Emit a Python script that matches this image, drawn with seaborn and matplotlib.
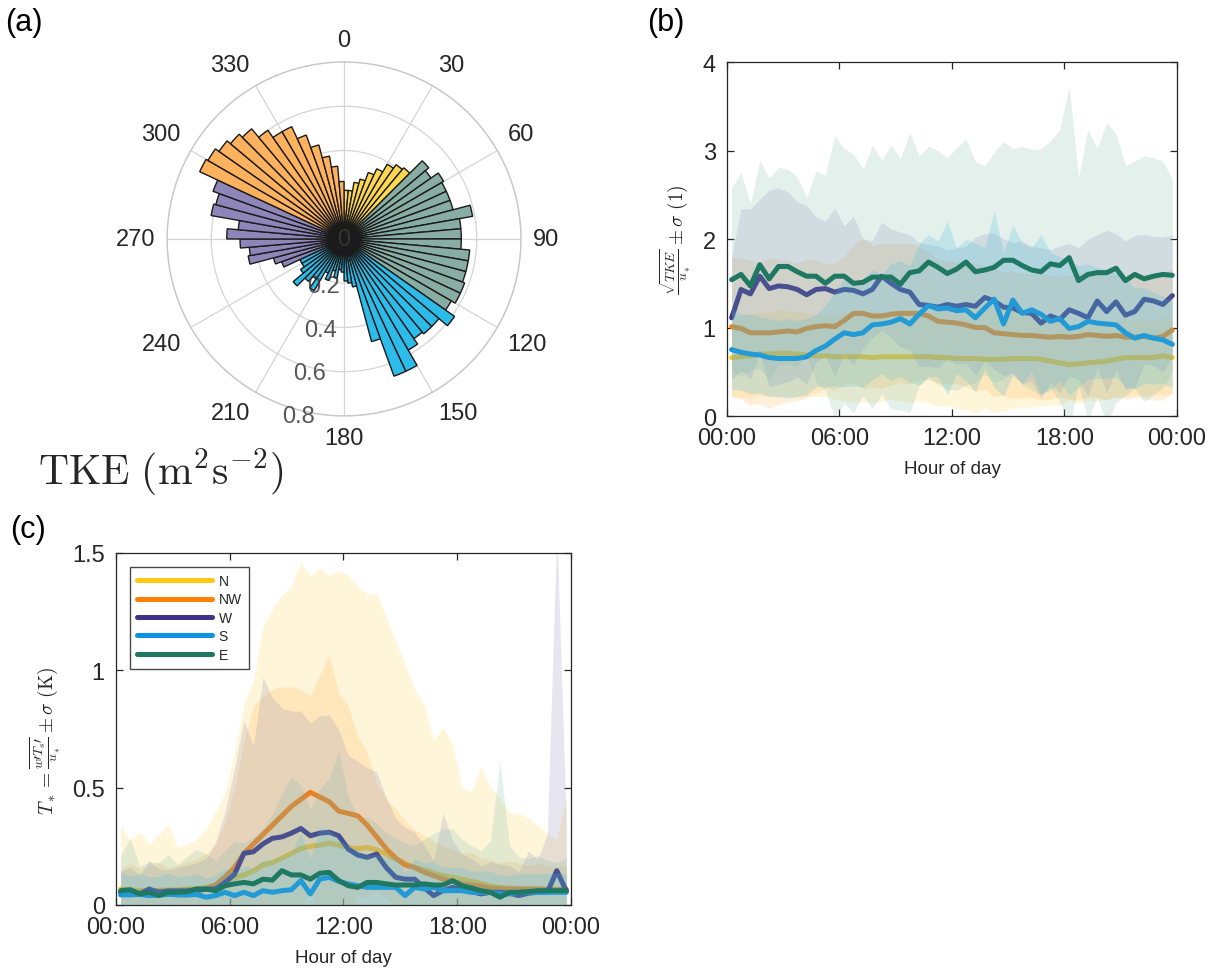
import numpy as np
import pandas as pd
import matplotlib
matplotlib.use("Agg")
import matplotlib.pyplot as plt
from matplotlib.lines import Line2D
import seaborn as sns

sns.set_theme(style="ticks")
plt.rcParams["font.family"] = ["Liberation Sans", "DejaVu Sans"]
plt.rcParams["mathtext.fontset"] = "cm"

# ---------------- data ----------------
hours = [0.25, 0.75, 1.25, 1.75, 2.25, 2.75, 3.25, 3.75, 4.25, 4.75, 5.25, 5.75,
         6.25, 6.75, 7.25, 7.75, 8.25, 8.75, 9.25, 9.75, 10.25, 10.75, 11.25, 11.75,
         12.25, 12.75, 13.25, 13.75, 14.25, 14.75, 15.25, 15.75, 16.25, 16.75, 17.25, 17.75,
         18.25, 18.75, 19.25, 19.75, 20.25, 20.75, 21.25, 21.75, 22.25, 22.75, 23.25, 23.75]
hour_ticks = [0, 6, 12, 18, 24]
hour_labels = ["00:00", "06:00", "12:00", "18:00", "00:00"]
sectors = ["N", "NW", "W", "S", "E"]

# (a) polar histogram of TKE, 5-degree bins (clockwise from north)
bin_deg = [2.5, 7.5, 12.5, 17.5, 22.5, 27.5, 32.5, 37.5, 42.5, 47.5, 52.5, 57.5,
           62.5, 67.5, 72.5, 77.5, 82.5, 87.5, 92.5, 97.5, 102.5, 107.5, 112.5, 117.5,
           122.5, 127.5, 132.5, 137.5, 142.5, 147.5, 152.5, 157.5, 162.5, 167.5, 172.5, 177.5,
           182.5, 187.5, 192.5, 197.5, 202.5, 207.5, 212.5, 217.5, 222.5, 227.5, 232.5, 237.5,
           242.5, 247.5, 252.5, 257.5, 262.5, 267.5, 272.5, 277.5, 282.5, 287.5, 292.5, 297.5,
           302.5, 307.5, 312.5, 317.5, 322.5, 327.5, 332.5, 337.5, 342.5, 347.5, 352.5, 357.5]
tke = [0.22, 0.22, 0.26, 0.28, 0.32, 0.35, 0.39, 0.41, 0.42,
       0.50, 0.48, 0.52, 0.51, 0.51, 0.51, 0.59, 0.53, 0.53, 0.53, 0.57, 0.57, 0.57, 0.58, 0.58, 0.56,
       0.61, 0.56, 0.56, 0.55, 0.58, 0.66, 0.66, 0.48, 0.22, 0.20, 0.19, 0.15, 0.14, 0.18, 0.15, 0.20,
       0.17, 0.27, 0.22, 0.25, 0.30, 0.24, 0.22, 0.22,
       0.30, 0.33, 0.44, 0.43, 0.47, 0.53, 0.48, 0.61, 0.60, 0.63,
       0.72, 0.71, 0.69, 0.67, 0.65, 0.60, 0.56, 0.56, 0.50, 0.44, 0.38, 0.33, 0.26]
sector_edges = {"N": (0, 45), "E": (45, 125), "S": (125, 245), "W": (245, 295), "NW": (295, 360)}
r_ticks = [0, 0.2, 0.4, 0.6, 0.8]
r_tick_labels = ["0", "0.2", "0.4", "0.6", "0.8"]
theta_ticks = [0, 30, 60, 90, 120, 150, 180, 210, 240, 270, 300, 330]
theta_labels = ["0", "30", "60", "90", "120", "150", "180", "210", "240", "270", "300", "330"]

# (b) sqrt(TKE)/u*  mean and std
b_mean = {
    "N": [0.66, 0.67, 0.68, 0.70, 0.70, 0.71, 0.71, 0.70, 0.69, 0.68, 0.68, 0.67, 0.67, 0.67, 0.67, 0.66,
          0.67, 0.67, 0.67, 0.67, 0.67, 0.67, 0.66, 0.66, 0.65, 0.65, 0.65, 0.64, 0.64, 0.64, 0.65, 0.65,
          0.65, 0.64, 0.62, 0.60, 0.58, 0.59, 0.60, 0.61, 0.62, 0.64, 0.66, 0.66, 0.66, 0.66, 0.68, 0.66],
    "NW": [1.01, 0.99, 0.94, 0.94, 0.94, 0.95, 0.96, 0.95, 0.99, 1.01, 1.02, 1.01, 1.08, 1.16, 1.16, 1.13,
           1.13, 1.15, 1.16, 1.16, 1.16, 1.13, 1.07, 1.06, 1.05, 1.03, 1.00, 1.00, 0.94, 0.93, 0.92, 0.91,
           0.91, 0.90, 0.89, 0.90, 0.89, 0.90, 0.92, 0.91, 0.90, 0.91, 0.89, 0.89, 0.90, 0.88, 0.90, 0.97],
    "W": [1.11, 1.43, 1.38, 1.58, 1.44, 1.47, 1.46, 1.43, 1.37, 1.43, 1.44, 1.40, 1.43, 1.42, 1.38, 1.43,
          1.58, 1.50, 1.43, 1.40, 1.26, 1.25, 1.23, 1.26, 1.24, 1.26, 1.24, 1.34, 1.30, 1.23, 1.22, 1.17,
          1.16, 1.05, 1.13, 1.09, 1.20, 1.16, 1.11, 1.30, 1.18, 1.29, 1.14, 1.18, 1.32, 1.30, 1.26, 1.36],
    "S": [0.75, 0.72, 0.70, 0.69, 0.66, 0.65, 0.65, 0.65, 0.67, 0.74, 0.79, 0.87, 0.94, 0.92, 0.94, 1.03,
          1.04, 1.06, 1.10, 1.04, 1.15, 1.25, 1.21, 1.22, 1.19, 1.20, 1.11, 1.22, 1.32, 1.04, 1.31, 1.16,
          1.20, 1.15, 1.07, 1.10, 0.99, 1.01, 1.07, 1.05, 1.04, 1.03, 0.94, 0.88, 0.91, 0.88, 0.86, 0.81],
    "E": [1.54, 1.60, 1.47, 1.71, 1.55, 1.69, 1.69, 1.63, 1.58, 1.58, 1.50, 1.58, 1.58, 1.50, 1.51, 1.57,
          1.57, 1.57, 1.49, 1.62, 1.64, 1.74, 1.68, 1.61, 1.66, 1.74, 1.63, 1.65, 1.68, 1.76, 1.76, 1.70,
          1.65, 1.63, 1.72, 1.70, 1.79, 1.53, 1.60, 1.62, 1.62, 1.67, 1.53, 1.60, 1.55, 1.58, 1.60, 1.59],
}
b_std = {
    "N": [0.45, 0.46, 0.47, 0.47, 0.48, 0.49, 0.48, 0.48, 0.47, 0.46, 0.46, 0.48, 0.50, 0.52, 0.50, 0.52,
          0.50, 0.48, 0.50, 0.52, 0.50, 0.52, 0.55, 0.54, 0.56, 0.58, 0.62, 0.55, 0.60, 0.58, 0.56, 0.55,
          0.55, 0.52, 0.50, 0.48, 0.40, 0.45, 0.42, 0.44, 0.43, 0.42, 0.44, 0.42, 0.43, 0.42, 0.44, 0.42],
    "NW": [0.78, 0.80, 0.82, 0.80, 0.85, 0.82, 0.80, 0.78, 0.78, 0.75, 0.70, 0.72, 0.72, 0.78, 0.85, 0.80,
           0.82, 0.80, 0.78, 0.80, 0.75, 0.72, 0.70, 0.70, 0.68, 0.70, 0.72, 0.70, 0.72, 0.70, 0.72, 0.70,
           0.70, 0.72, 0.70, 0.68, 0.70, 0.72, 0.70, 0.70, 0.72, 0.70, 0.70, 0.68, 0.70, 0.70, 0.72, 0.70],
    "W": [0.70, 0.91, 0.96, 0.87, 1.11, 1.11, 1.07, 0.99, 1.01, 0.82, 0.76, 0.95, 0.72, 0.84, 0.62, 0.55,
          0.61, 0.61, 0.65, 0.65, 0.70, 0.69, 0.69, 0.62, 0.66, 0.66, 0.78, 0.72, 0.77, 0.77, 0.74, 0.81,
          0.76, 0.85, 0.75, 0.83, 0.75, 0.74, 0.89, 0.75, 0.92, 0.77, 0.84, 0.86, 0.73, 0.73, 0.76, 0.69],
    "S": [0.45, 0.43, 0.45, 0.43, 0.44, 0.43, 0.45, 0.43, 0.43, 0.41, 0.46, 0.53, 0.61, 0.58, 0.61, 0.62,
          0.56, 0.66, 0.65, 0.66, 0.80, 0.80, 0.77, 0.98, 0.71, 0.80, 0.84, 0.68, 1.00, 0.81, 0.85, 0.79,
          0.70, 0.90, 0.78, 0.70, 0.76, 0.69, 0.65, 0.63, 0.61, 0.59, 0.61, 0.57, 0.54, 0.52, 0.49, 0.49],
    "E": [1.04, 1.15, 0.93, 1.18, 1.14, 1.12, 1.10, 1.07, 0.89, 1.19, 1.22, 1.59, 1.44, 1.46, 1.28, 1.49,
          1.32, 1.49, 1.42, 1.58, 1.30, 1.31, 1.32, 1.31, 1.37, 1.39, 1.25, 1.18, 1.30, 1.34, 1.26, 1.35,
          1.36, 1.39, 1.39, 1.54, 1.93, 1.17, 1.64, 1.41, 1.70, 1.52, 1.30, 1.28, 1.39, 1.34, 1.28, 1.09],
}

# (c) T* mean and std
c_mean = {
    "N": [0.068, 0.065, 0.062, 0.060, 0.062, 0.065, 0.065, 0.068, 0.070, 0.075, 0.085, 0.100, 0.115, 0.128,
          0.145, 0.170, 0.180, 0.200, 0.220, 0.240, 0.250, 0.255, 0.264, 0.255, 0.245, 0.240, 0.245, 0.235,
          0.217, 0.196, 0.177, 0.160, 0.150, 0.136, 0.125, 0.118, 0.110, 0.100, 0.092, 0.080, 0.075, 0.072,
          0.070, 0.070, 0.068, 0.068, 0.068, 0.068],
    "NW": [0.054, 0.058, 0.055, 0.058, 0.060, 0.060, 0.060, 0.065, 0.065, 0.070, 0.085, 0.120, 0.160, 0.220,
           0.260, 0.300, 0.340, 0.380, 0.420, 0.450, 0.480, 0.460, 0.440, 0.400, 0.390, 0.380, 0.340, 0.290,
           0.240, 0.200, 0.170, 0.160, 0.140, 0.125, 0.110, 0.100, 0.090, 0.085, 0.080, 0.072, 0.070, 0.068,
           0.068, 0.068, 0.068, 0.066, 0.065, 0.065],
    "W": [0.054, 0.060, 0.047, 0.068, 0.054, 0.060, 0.060, 0.060, 0.060, 0.068, 0.068, 0.096, 0.130, 0.220,
          0.227, 0.260, 0.284, 0.290, 0.306, 0.326, 0.295, 0.306, 0.310, 0.295, 0.238, 0.213, 0.203, 0.217,
          0.160, 0.118, 0.110, 0.110, 0.075, 0.040, 0.061, 0.075, 0.068, 0.057, 0.047, 0.054, 0.054, 0.050,
          0.040, 0.050, 0.054, 0.054, 0.146, 0.060],
    "S": [0.043, 0.043, 0.045, 0.040, 0.042, 0.045, 0.043, 0.042, 0.045, 0.033, 0.040, 0.054, 0.040, 0.054,
          0.040, 0.061, 0.054, 0.061, 0.065, 0.104, 0.047, 0.110, 0.118, 0.100, 0.090, 0.082, 0.075, 0.075,
          0.075, 0.075, 0.040, 0.075, 0.068, 0.075, 0.061, 0.061, 0.061, 0.054, 0.054, 0.054, 0.047, 0.047,
          0.054, 0.054, 0.054, 0.054, 0.054, 0.054],
    "E": [0.061, 0.065, 0.047, 0.054, 0.040, 0.054, 0.054, 0.057, 0.068, 0.068, 0.061, 0.082, 0.090, 0.096,
          0.090, 0.110, 0.106, 0.146, 0.128, 0.128, 0.110, 0.135, 0.139, 0.104, 0.082, 0.075, 0.096, 0.096,
          0.090, 0.085, 0.085, 0.085, 0.090, 0.085, 0.085, 0.104, 0.082, 0.072, 0.061, 0.054, 0.033, 0.054,
          0.054, 0.057, 0.061, 0.061, 0.061, 0.061],
}
c_std = {
    "N": [0.27, 0.21, 0.25, 0.20, 0.24, 0.28, 0.18, 0.19, 0.21, 0.25, 0.31, 0.38, 0.53, 0.73, 0.81, 1.02,
          1.08, 1.12, 1.14, 1.22, 1.15, 1.18, 1.14, 1.17, 1.16, 1.12, 1.08, 1.09, 1.01, 0.93, 0.85, 0.76,
          0.70, 0.57, 0.63, 0.57, 0.39, 0.38, 0.50, 0.42, 0.38, 0.32, 0.32, 0.30, 0.27, 0.24, 0.21, 0.40],
    "NW": [0.10, 0.12, 0.10, 0.11, 0.12, 0.10, 0.11, 0.12, 0.13, 0.15, 0.17, 0.23, 0.34, 0.48, 0.59, 0.59,
           0.58, 0.55, 0.51, 0.47, 0.41, 0.52, 0.63, 0.50, 0.46, 0.34, 0.31, 0.23, 0.21, 0.21, 0.19, 0.16,
           0.16, 0.15, 0.14, 0.14, 0.13, 0.14, 0.12, 0.12, 0.11, 0.12, 0.11, 0.10, 0.11, 0.10, 0.10, 0.10],
    "W": [0.09, 0.10, 0.08, 0.12, 0.10, 0.09, 0.10, 0.11, 0.12, 0.13, 0.20, 0.30, 0.45, 0.57, 0.45, 0.71,
          0.60, 0.55, 0.52, 0.50, 0.48, 0.50, 0.50, 0.45, 0.40, 0.40, 0.38, 0.35, 0.30, 0.25, 0.22, 0.20,
          0.18, 0.15, 0.33, 0.20, 0.15, 0.14, 0.12, 0.13, 0.12, 0.12, 0.10, 0.18, 0.14, 0.25, 1.45, 0.30],
    "S": [0.10, 0.08, 0.09, 0.08, 0.08, 0.09, 0.08, 0.08, 0.09, 0.08, 0.09, 0.10, 0.10, 0.11, 0.12, 0.13,
          0.14, 0.15, 0.16, 0.20, 0.15, 0.22, 0.20, 0.18, 0.16, 0.15, 0.14, 0.14, 0.13, 0.13, 0.10, 0.12,
          0.11, 0.11, 0.10, 0.10, 0.10, 0.09, 0.09, 0.09, 0.08, 0.08, 0.08, 0.08, 0.08, 0.08, 0.08, 0.08],
    "E": [0.15, 0.22, 0.12, 0.13, 0.14, 0.16, 0.12, 0.15, 0.17, 0.15, 0.13, 0.15, 0.18, 0.17, 0.20, 0.22,
          0.28, 0.33, 0.42, 0.38, 0.30, 0.36, 0.40, 0.55, 0.38, 0.30, 0.28, 0.25, 0.22, 0.20, 0.18, 0.17,
          0.19, 0.22, 0.24, 0.22, 0.20, 0.18, 0.17, 0.22, 0.58, 0.20, 0.15, 0.14, 0.15, 0.13, 0.12, 0.14],
}

# ---------------- styles ----------------
line_colors = {"N": "#FFC814", "NW": "#FF8000", "W": "#3C3489", "S": "#0A92E3", "E": "#1E7862"}
bar_colors = {"N": "#FFD84F", "NW": "#FFB25E", "W": "#8E86B8", "S": "#2DBBEA", "E": "#88ADA2"}
fill_colors = {"N": "#FFD84F", "NW": "#FFB24E", "W": "#8E86B8", "S": "#2DBBEA", "E": "#7EBCA9"}
TXT = "#262626"

fig = plt.figure(figsize=(12.08, 9.70), dpi=100)

# ---------------- (a) polar ----------------
axa = fig.add_axes([0.1383, 0.5701, 0.293, 0.365], projection="polar")
axa.set_theta_zero_location("N")
axa.set_theta_direction(-1)
theta = np.deg2rad(bin_deg)
bar_cols = []
for d in bin_deg:
    for s, (lo, hi) in sector_edges.items():
        if lo <= d < hi:
            bar_cols.append(bar_colors[s])
            break
axa.set_axisbelow(True)
axa.bar(theta, tke, width=np.deg2rad(5), color=bar_cols, edgecolor="#1a1a1a", linewidth=1.0, zorder=3)
axa.set_ylim(0, 0.8)
axa.set_yticks(r_ticks)
axa.set_yticklabels([])
axa.set_xticks(np.deg2rad(theta_ticks))
axa.set_xticklabels([])
axa.grid(True, color="#D5D5D5", linewidth=0.9)
axa.spines["polar"].set_color("#C8C8C8")
axa.spines["polar"].set_linewidth(1.0)
# angle labels, anchored outward like the original
for ang, lab in zip(theta_ticks, theta_labels):
    sn, cs = np.sin(np.deg2rad(ang)), np.cos(np.deg2rad(ang))
    ha = "left" if sn > 0.1 else ("right" if sn < -0.1 else "center")
    va = "bottom" if cs > 0.1 else ("top" if cs < -0.1 else "center")
    axa.text(np.deg2rad(ang), 0.852, lab, fontsize=17, color=TXT, ha=ha, va=va, clip_on=False)
# radial labels drawn above the bars
for rv, lab in zip(r_ticks, r_tick_labels):
    if rv == 0:
        pos = (0.0, 0.0)
    elif rv == 0.2:
        pos = (np.deg2rad(204), rv + 0.033)
    else:
        pos = (np.deg2rad(194.5), rv + 0.027)
    axa.text(pos[0], pos[1], lab, fontsize=17, color="#3a3a3a", ha="center", va="center",
             zorder=10, clip_on=False, alpha=0.85)
fig.text(0.133, 0.513, r"$\mathrm{TKE}\ (\mathrm{m^2s^{-2}})$", fontsize=30, ha="center", va="center", color=TXT)


def draw_panel(ax, means, stds):
    for k, s in enumerate(sectors):
        m = np.array(means[s])
        sd = np.array(stds[s])
        ax.fill_between(hours, m - sd, m + sd, color=fill_colors[s], alpha=0.21, linewidth=0,
                        zorder=2 * k + 1)
        df = pd.DataFrame({"hour": hours, "value": m})
        sns.lineplot(data=df, x="hour", y="value", ax=ax, color=line_colors[s], linewidth=3.6,
                     legend=False, zorder=2 * k + 2)
    ax.set_xlim(0, 24)
    ax.set_xticks(hour_ticks)
    ax.set_xticklabels(hour_labels)
    ax.tick_params(direction="in", top=True, right=True, length=5, width=0.9, labelsize=17,
                   colors=TXT, pad=8)
    for sp in ax.spines.values():
        sp.set_color(TXT)
        sp.set_linewidth(0.9)
        sp.set_zorder(20)
    ax.set_xlabel("Hour of day", fontsize=13.5, color=TXT)


# ---------------- (b) ----------------
axb = fig.add_axes([0.6018, 0.5701, 0.3725, 0.3649])
draw_panel(axb, b_mean, b_std)
axb.set_ylim(0, 4)
axb.set_yticks([0, 1, 2, 3, 4])
axb.set_yticklabels(["0", "1", "2", "3", "4"])
axb.set_ylabel(r"$\frac{\sqrt{TKE}}{u_*}\pm\sigma\ (1)$", fontsize=14, color=TXT)
axb.yaxis.set_label_coords(-0.075, 0.5)
axb.xaxis.set_label_coords(0.5, -0.125)

# ---------------- (c) ----------------
axc = fig.add_axes([0.096, 0.066, 0.3767, 0.3629])
draw_panel(axc, c_mean, c_std)
axc.set_ylim(0, 1.5)
axc.set_yticks([0, 0.5, 1, 1.5])
axc.set_yticklabels(["0", "0.5", "1", "1.5"])
axc.set_ylabel(r"$T_* = \frac{\overline{w\prime T_s\prime}}{u_*}\pm\sigma\ (\mathrm{K})$", fontsize=14, color=TXT)
axc.yaxis.set_label_coords(-0.117, 0.47)
axc.xaxis.set_label_coords(0.5, -0.125)
handles = [Line2D([0], [0], color=line_colors[s], linewidth=3.6) for s in sectors]
leg = axc.legend(handles, sectors, loc="upper left", bbox_to_anchor=(0.03, 0.96), fontsize=10,
                 handlelength=5.4, frameon=True, fancybox=False, edgecolor="#1a1a1a",
                 borderpad=0.5, labelspacing=0.32, handletextpad=0.5, borderaxespad=0)
leg.get_frame().set_linewidth(1.0)
leg.set_zorder(30)

# panel letters
fig.text(0.004, 0.992, "(a)", fontsize=22, va="top", ha="left", color="black")
fig.text(0.536, 0.992, "(b)", fontsize=22, va="top", ha="left", color="black")
fig.text(0.008, 0.469, "(c)", fontsize=22, va="top", ha="left", color="black")

fig.savefig("out.png", dpi=100)
